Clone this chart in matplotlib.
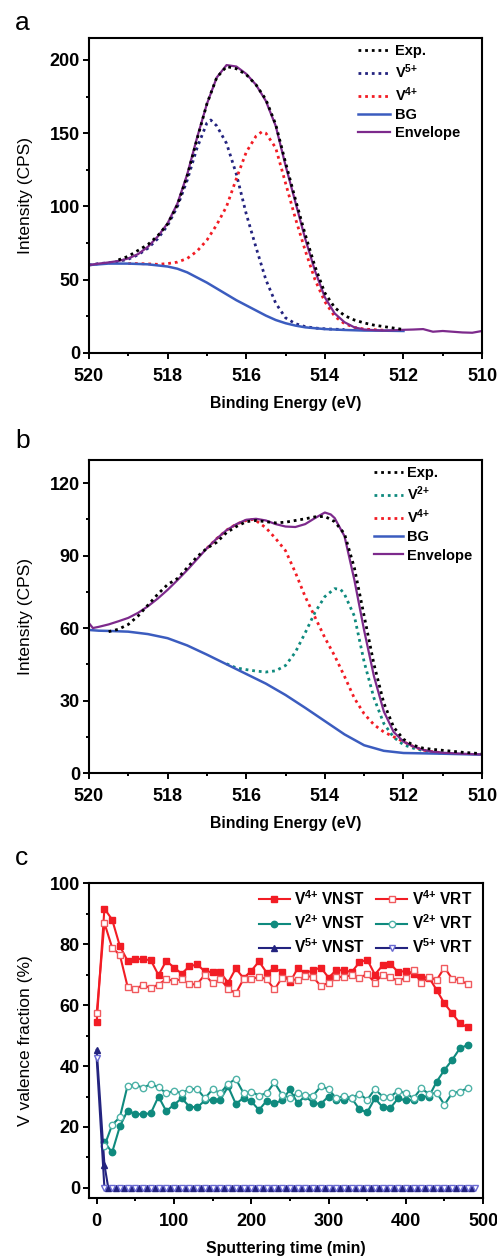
import matplotlib
matplotlib.use("Agg")
import matplotlib.pyplot as plt
from matplotlib.ticker import MultipleLocator

plt.rcParams.update({
    "font.family": "Liberation Sans",
    "font.weight": "bold",
    "mathtext.fontset": "custom",
    "mathtext.rm": "Liberation Sans:bold",
    "mathtext.bf": "Liberation Sans:bold",
    "mathtext.it": "Liberation Sans:bold:italic",
    "axes.linewidth": 1.5,
})

# ---- colours ----
RED = "#f21c24"
RED_OPEN = "#f05a5e"
TEAL = "#0f8a7e"
TEAL_OPEN = "#4fb3a8"
NAVY = "#23237f"
NAVY_OPEN = "#6a6ad2"
BLUE = "#3b5cbf"
PURPLE = "#7d2a8c"
DOT = (0, (1.0, 1.4))

# ---- (a) V 2p3/2, pristine ----
E_a_env = [520, 519.75, 519.5, 519.25, 519, 518.75, 518.5, 518.25, 518, 517.75,
           517.5, 517.25, 517, 516.75, 516.5, 516.25, 516, 515.75, 515.5, 515.25,
           515, 514.75, 514.5, 514.25, 514, 513.75, 513.5, 513.25, 513, 512.75,
           512.5, 512.25, 512, 511.75, 511.5, 511.25, 511, 510.75, 510.5, 510.25, 510]
env_a = [60, 61, 61.8, 62.8, 64.5, 67.5, 72.5, 79.5, 88.5, 102,
         122, 147, 170, 188, 196.5, 195.5, 190.5, 183, 172, 155,
         128, 103, 78, 56, 38, 27, 21, 17.5, 16, 15.6,
         15.3, 15.5, 15.8, 16, 16.3, 14.5, 15, 14.5, 14, 13.8, 15]

E_a_exp = [519.25, 519, 518.75, 518.5, 518.25, 518, 517.75, 517.5, 517.25, 517,
           516.75, 516.5, 516.25, 516, 515.75, 515.5, 515.25, 515, 514.75, 514.5,
           514.25, 514, 513.75, 513.5, 513.25, 513, 512.75, 512.5, 512.25, 512]
exp_a = [63.5, 66, 70, 74, 80, 88, 101, 121, 146, 170,
         188, 195.5, 194, 190, 183, 173, 156, 130, 105, 81,
         59, 41, 31, 25.5, 22.5, 20.5, 19, 18, 17, 16]

E_a_v5 = [520, 519.75, 519.5, 519.25, 519, 518.75, 518.5, 518.25, 518, 517.75,
          517.5, 517.25, 517, 516.9, 516.75, 516.5, 516.25, 516, 515.75, 515.5,
          515.25, 515, 514.75, 514.5, 514.25, 514, 513.75, 513.5]
v5_a = [60, 61, 61.5, 62.5, 64, 67, 71.5, 78, 87, 100,
        118, 140, 157, 159, 155, 143, 122, 95, 72, 50,
        34, 24, 20, 18, 17, 16.5, 16.2, 16]

E_a_v4 = [519, 518.75, 518.5, 518.25, 518, 517.75, 517.5, 517.25, 517, 516.75,
          516.5, 516.25, 516, 515.75, 515.6, 515.5, 515.25, 515, 514.75, 514.5,
          514.25, 514, 513.75, 513.5, 513.25, 513, 512.5]
v4_a = [61, 61, 60.8, 60.5, 61, 62, 64.5, 69.5, 77, 87.5,
        100, 119, 137, 148, 151, 150, 140, 116, 92, 70,
        50, 35, 25, 20, 17.5, 16.3, 15.5]

E_a_bg = [520, 519.5, 519, 518.5, 518, 517.75, 517.5, 517.25, 517, 516.75,
          516.5, 516.25, 516, 515.75, 515.5, 515.25, 515, 514.75, 514.5, 514,
          513.5, 513, 512.5, 512]
bg_a = [60, 61, 61, 60.5, 59, 57.5, 55, 51.5, 48, 44,
        40, 36, 32.5, 29, 25.5, 22.5, 20.3, 18.7, 17.5, 16.3,
        15.7, 15.3, 15.2, 15]

# ---- (b) V 2p3/2, after treatment ----
E_b_env = [520, 519.9, 519.75, 519.5, 519.25, 519, 518.75, 518.5, 518.25, 518,
           517.75, 517.5, 517.25, 517, 516.75, 516.5, 516.25, 516, 515.75, 515.5,
           515.25, 515, 514.75, 514.5, 514.25, 514, 513.85, 513.75, 513.5, 513.25,
           513, 512.75, 512.5, 512.25, 512, 511.75, 511.5, 511.25, 511, 510.5, 510]
env_b = [62, 60, 60.5, 61.5, 62.8, 64.2, 66.3, 69, 72.2, 75.8,
         79.8, 84, 88.5, 93, 97, 100.5, 103, 104.8, 105.2, 104.5,
         103, 102, 101.8, 103, 105.5, 107.8, 107, 105.5, 98, 80,
         59, 40, 25.5, 17, 13, 11, 9.6, 8.8, 8.4, 8, 7.7]

E_b_exp = [519.5, 519.25, 519, 518.75, 518.5, 518.25, 518, 517.75, 517.5, 517.25,
           517, 516.75, 516.5, 516.25, 516, 515.75, 515.5, 515.25, 515, 514.75,
           514.5, 514.25, 514, 513.75, 513.5, 513.25, 513, 512.75, 512.5, 512.25,
           512, 511.75, 511.5, 511.25, 511, 510.75, 510.5, 510.25, 510]
exp_b = [58.5, 59.5, 61.5, 65, 69.5, 74, 78, 80.5, 85, 89.5,
         93, 95.5, 99.5, 102, 104, 104.5, 104, 103.5, 103.8, 104.5,
         105.2, 106, 106.2, 104, 99, 85, 65, 45, 29, 19,
         14, 11.5, 10.3, 9.8, 9.4, 9, 8.6, 8.3, 8]

E_b_v2 = [516.5, 516.25, 516, 515.75, 515.5, 515.25, 515, 514.75, 514.5, 514.25,
          514, 513.75, 513.6, 513.5, 513.25, 513, 512.75, 512.5, 512.25, 512,
          511.75, 511.5, 511.25, 511]
v2_b = [45.2, 43.5, 42.8, 42.2, 41.8, 42.3, 44.5, 50, 58, 66.5,
        73, 76.3, 76, 74, 65, 46, 31, 20.5, 14.8, 11.7,
        10.3, 9.3, 8.5, 8.2]

E_b_v4 = [517, 516.75, 516.5, 516.25, 516, 515.8, 515.5, 515.25, 515, 514.75,
          514.5, 514.25, 514, 513.75, 513.5, 513.25, 513, 512.75, 512.5, 512.25,
          512, 511.75, 511.5, 511.25, 511]
v4_b = [93, 97, 100.5, 103, 104.5, 105, 101.5, 97, 92, 83,
        73, 64.5, 56, 48.5, 40, 31, 24.5, 20, 17, 15,
        13, 11, 9.5, 8.8, 8.4]

E_b_bg = [520, 519.75, 519.5, 519, 518.5, 518, 517.5, 517, 516.5, 516,
          515.5, 515, 514.5, 514, 513.5, 513, 512.5, 512, 511, 510]
bg_b = [59.2, 58.9, 58.8, 58.5, 57.5, 55.8, 52.8, 49, 45, 41,
        37, 32.3, 27, 21.5, 16, 11.5, 9.2, 8.3, 8, 7.6]

# ---- (c) valence fractions vs sputtering time ----
t_v4 = list(range(0, 490, 10))
v4_vnst = [54.3, 91.6, 88.0, 79.3, 74.5, 75.2, 75.0, 74.7, 69.8, 74.5,
           72.3, 70.3, 72.7, 73.3, 71.0, 70.8, 70.8, 67.3, 72.0, 68.8,
           71.2, 74.3, 70.6, 72.0, 70.8, 67.4, 72.0, 70.5, 71.4, 72.3,
           69.0, 71.4, 71.4, 70.8, 74.0, 74.9, 70.0, 73.0, 73.5, 70.8,
           71.2, 70.1, 69.2, 69.0, 64.9, 60.5, 57.3, 54.0, 52.7]
v4_vrt = [57.3, 86.9, 78.8, 76.4, 66.0, 65.4, 66.5, 65.6, 66.7, 68.5,
          67.9, 68.5, 66.8, 66.8, 70.0, 67.1, 68.5, 65.4, 63.8, 68.5,
          68.5, 69.2, 68.5, 65.1, 69.0, 68.5, 68.2, 69.5, 69.2, 66.2,
          67.3, 69.2, 69.2, 69.8, 69.0, 70.1, 67.3, 70.0, 69.2, 67.8,
          69.0, 71.6, 67.1, 69.2, 68.2, 72.3, 68.6, 68.2, 66.8]

t_v2_vnst = list(range(10, 490, 10))
v2_vnst = [15.0, 11.7, 20.2, 25.4, 24.2, 24.2, 24.5, 30.0, 25.2, 27.3, 29.4,
           26.7, 26.4, 28.7, 28.9, 28.9, 33.3, 27.6, 29.5, 28.4, 25.6,
           28.6, 27.8, 28.7, 32.3, 27.8, 30.2, 27.8, 27.6, 30.0, 28.9,
           28.9, 29.4, 25.8, 24.8, 29.4, 26.5, 26.2, 29.4, 28.7, 28.9,
           30.0, 30.0, 34.9, 38.7, 42.0, 45.8, 46.9]
t_v2_vrt = list(range(10, 490, 10))
v2_vrt = [13.8, 20.7, 23.2, 33.6, 33.9, 32.8, 34.1, 33.0, 31.1, 31.8,
          31.1, 32.4, 32.5, 29.4, 32.4, 31.1, 34.1, 35.8, 31.1, 31.6,
          30.3, 31.1, 34.6, 30.5, 29.6, 31.1, 30.5, 30.3, 33.3, 32.4,
          29.4, 30.2, 29.5, 30.9, 28.9, 32.4, 30.0, 30.0, 31.8, 31.1,
          29.4, 32.7, 30.8, 31.2, 27.3, 31.1, 31.6, 32.7]

t_v5_vnst = [0, 10] + list(range(15, 490, 10))
v5_vnst = [45.3, 7.6] + [0.0] * 48
t_v5_vrt = [0] + list(range(10, 500, 10))
v5_vrt = [42.5] + [0.0] * 49


def style_axes(ax, xlim, ylim, xmaj, xmin, ymaj, ymin):
    ax.set_xlim(*xlim)
    ax.set_ylim(*ylim)
    ax.xaxis.set_major_locator(MultipleLocator(xmaj))
    ax.xaxis.set_minor_locator(MultipleLocator(xmin))
    ax.yaxis.set_major_locator(MultipleLocator(ymaj))
    ax.yaxis.set_minor_locator(MultipleLocator(ymin))
    ax.tick_params(which="both", direction="out", width=1.4, labelsize=13,
                   top=False, right=False)
    ax.tick_params(which="major", length=4)
    ax.tick_params(which="minor", length=2.5)
    ax.tick_params(axis="x", pad=7)
    ax.tick_params(axis="y", pad=2.5)
    for lab in ax.get_xticklabels() + ax.get_yticklabels():
        lab.set_fontweight("bold")


def label_axes(ax, xlabel, ylabel):
    ax.set_xlabel(xlabel, fontsize=11.4, fontweight="bold", labelpad=8)
    ax.set_ylabel(ylabel, fontsize=12.5, fontweight="normal", labelpad=12)


fig = plt.figure(figsize=(4.97, 12.57), dpi=100)

# (a)
ax = fig.add_axes([0.179, 0.7192, 0.791, 0.2506])
h_v5, = ax.plot(E_a_v5, v5_a, color=NAVY, ls=DOT, lw=2.0, label=r"V$^{\text{5+}}$")
h_v4, = ax.plot(E_a_v4, v4_a, color=RED, ls=DOT, lw=2.0, label=r"V$^{\text{4+}}$")
h_bg, = ax.plot(E_a_bg, bg_a, color=BLUE, lw=1.8, label="BG")
h_env, = ax.plot(E_a_env, env_a, color=PURPLE, lw=1.6, label="Envelope")
h_exp, = ax.plot(E_a_exp, exp_a, color="black", ls=DOT, lw=2.0, label="Exp.")
style_axes(ax, (520, 510), (0, 215), 2, 1, 50, 25)
label_axes(ax, "Binding Energy (eV)", "Intensity (CPS)")
ax.legend(handles=[h_exp, h_v5, h_v4, h_bg, h_env], loc="upper left",
          bbox_to_anchor=(0.67, 1.0), frameon=False, fontsize=10.5,
          handlelength=2.2, handletextpad=0.3, labelspacing=0.3,
          borderaxespad=0)
fig.text(15 / 497, 1 - 30 / 1257, "a", fontsize=19, fontweight="normal")

# (b)
ax = fig.add_axes([0.179, 0.385, 0.791, 0.249])
h_v2, = ax.plot(E_b_v2, v2_b, color=TEAL, ls=DOT, lw=2.0, label=r"V$^{\text{2+}}$")
h_v4, = ax.plot(E_b_v4, v4_b, color=RED, ls=DOT, lw=2.0, label=r"V$^{\text{4+}}$")
h_bg, = ax.plot(E_b_bg, bg_b, color=BLUE, lw=1.8, label="BG")
h_env, = ax.plot(E_b_env, env_b, color=PURPLE, lw=1.6, label="Envelope")
h_exp, = ax.plot(E_b_exp, exp_b, color="black", ls=DOT, lw=2.0, label="Exp.")
style_axes(ax, (520, 510), (0, 129.5), 2, 1, 30, 15)
label_axes(ax, "Binding Energy (eV)", "Intensity (CPS)")
ax.legend(handles=[h_exp, h_v2, h_v4, h_bg, h_env], loc="upper left",
          bbox_to_anchor=(0.71, 1.0), frameon=False, fontsize=10.5,
          handlelength=2.0, handletextpad=0.3, labelspacing=0.3,
          borderaxespad=0)
fig.text(15 / 497, 1 - 448 / 1257, "b", fontsize=19, fontweight="normal")

# (c)
ax = fig.add_axes([0.179, 0.0469, 0.793, 0.2506])
mk = dict(lw=1.5, ms=4.6)
a1, = ax.plot(t_v4, v4_vnst, color=RED, marker="s", mfc=RED, mec=RED,
              label=r"V$^{\text{4+}}$ VNST", **mk)
a2, = ax.plot(t_v2_vnst, v2_vnst, color=TEAL, marker="o", mfc=TEAL, mec=TEAL,
              label=r"V$^{\text{2+}}$ VNST", **mk)
a3, = ax.plot(t_v5_vnst, v5_vnst, color=NAVY, marker="^", mfc=NAVY, mec=NAVY,
              label=r"V$^{\text{5+}}$ VNST", lw=1.5, ms=4.4)
b1, = ax.plot(t_v4, v4_vrt, color=RED, marker="s", mfc="white", mec=RED_OPEN,
              label=r"V$^{\text{4+}}$ VRT", **mk)
b2, = ax.plot(t_v2_vrt, v2_vrt, color=TEAL, marker="o", mfc="white",
              mec=TEAL_OPEN, label=r"V$^{\text{2+}}$ VRT", **mk)
b3, = ax.plot(t_v5_vrt, v5_vrt, color=NAVY, marker="v", mfc="white",
              mec=NAVY_OPEN, label=r"V$^{\text{5+}}$ VRT", lw=1.5, ms=4.4)
style_axes(ax, (-10, 500), (-3.3, 100), 100, 50, 20, 10)
label_axes(ax, "Sputtering time (min)", "V valence fraction (%)")
ax.legend(handles=[a1, a2, a3, b1, b2, b3], ncol=2, loc="upper right",
          bbox_to_anchor=(1.0, 1.015), frameon=False, fontsize=11.2,
          handlelength=2.0, handletextpad=0.3, labelspacing=0.35,
          columnspacing=0.7, borderaxespad=0.3)
fig.text(15 / 497, 1 - 865 / 1257, "c", fontsize=19, fontweight="normal")

fig.savefig("out.png", dpi=100)
